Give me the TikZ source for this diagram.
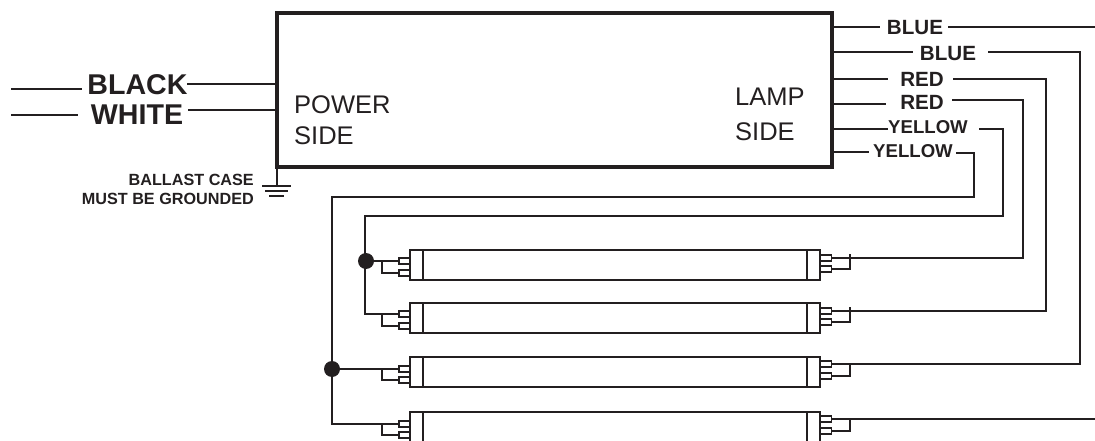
\documentclass[tikz,border=0pt]{standalone}
\usepackage{fontspec}
\setmainfont{Liberation Sans}
\definecolor{ink}{HTML}{231F20}
\tikzset{
  wire/.style={draw=ink,line width=2pt,line join=miter},
  boxmain/.style={draw=ink,line width=4.4pt,minimum width=555pt,minimum height=154pt,inner sep=0pt,outer sep=0pt},
  tubebody/.style={draw=ink,line width=2pt,minimum width=384pt,minimum height=30pt,inner sep=0pt,outer sep=0pt},
  tubecap/.style={draw=ink,fill=white,line width=2.2pt,minimum width=13pt,minimum height=30pt,inner sep=0pt,outer sep=0pt},
  tubepin/.style={draw=ink,fill=white,line width=1.9pt,minimum width=11pt,minimum height=6pt,inner sep=0pt,outer sep=0pt},
  dot/.style={circle,fill=ink,minimum size=16pt,inner sep=0pt,outer sep=0pt},
  big/.style={text=ink,inner sep=0pt,font=\bfseries\fontsize{28.6}{28.6}\selectfont},
  mid/.style={text=ink,inner sep=0pt,font=\bfseries\fontsize{20.6}{20.6}\selectfont},
  yel/.style={text=ink,inner sep=0pt,font=\bfseries\fontsize{18.6}{18.6}\selectfont},
  small/.style={text=ink,inner sep=0pt,font=\bfseries\fontsize{16.2}{20}\selectfont,anchor=east},
  side/.style={text=ink,inner sep=0pt,font=\fontsize{25.5}{25.5}\selectfont,anchor=base west},
}
\begin{document}
\begin{tikzpicture}[x=1pt,y=-1pt]
\clip (0,0) rectangle (1095,441);
\node[boxmain] (box) at (554.5,90) {};
% labels in the box
\node[side] (pw) at (294,113.5) {POWER};
\node[side] (ps) at (294,145) {SIDE};
\node[side] (lp) at (735,105.5) {LAMP};
\node[side] (ls) at (735,141) {SIDE};
% input
\node[big] (black) at (137.5,85) {BLACK};
\node[big] (white) at (137,114.5) {WHITE};
\coordinate (ba) at (11,89); \coordinate (bb) at (82,89);
\coordinate (bc) at (187,84); \coordinate (bd) at (277,84);
\coordinate (wa) at (11,115); \coordinate (wb) at (78,115);
\coordinate (wc) at (188,110); \coordinate (wd) at (277,110);
\draw[wire] (ba) -- (bb);
\draw[wire] (bc) -- (bd);
\draw[wire] (wa) -- (wb);
\draw[wire] (wc) -- (wd);
% ground
\node[small] (g1) at (254,179.5) {BALLAST CASE};
\node[small] (g2) at (254,199) {MUST BE GROUNDED};
\coordinate (gt) at (277,167); \coordinate (gb) at (277,186);
\coordinate (g1a) at (262,186); \coordinate (g1b) at (291,186);
\coordinate (g2a) at (265,191); \coordinate (g2b) at (288,191);
\coordinate (g3a) at (269,196); \coordinate (g3b) at (284,196);
\draw[wire] (gt) -- (gb);
\draw[wire] (g1a) -- (g1b);
\draw[wire] (g2a) -- (g2b);
\draw[wire] (g3a) -- (g3b);
% lamps
\foreach \n/\T/\la/\lb/\ra/\rb in {1/250/261/273/258/269,2/303/314/326/311/322,3/357/369/380/364/376,4/412/424/435/419/431}{
  \node[tubebody] (body\n) at (615,\T+15) {};
  \node[tubecap] (capl\n) at (416.5,\T+15) {};
  \node[tubecap] (capr\n) at (813.5,\T+15) {};
  \node[tubepin] (pla\n) at (404.5,\la) {};
  \node[tubepin] (plb\n) at (404.5,\lb) {};
  \node[tubepin] (pra\n) at (826,\ra) {};
  \node[tubepin] (prb\n) at (826,\rb) {};
  \coordinate (bl\n) at (382,\la);
  \coordinate (br\n) at (850,\ra);
  \draw[wire] (bl\n) |- (plb\n.west);
  \draw[wire] (prb\n.east) -| (br\n);
}
\draw[wire] (850,258) -- (850,254);
\draw[wire] (850,311) -- (850,307);
% output labels
\node[mid] (blue1) at (915,28) {BLUE};
\node[mid] (blue2) at (948,53.5) {BLUE};
\node[mid] (red1) at (922,79) {RED};
\node[mid] (red2) at (922,102) {RED};
\node[yel] (yel1) at (928,127.5) {YELLOW};
\node[yel] (yel2) at (913,151) {YELLOW};
\coordinate (o1a) at (832,27); \coordinate (o1b) at (880,27); \coordinate (o1c) at (948,27); \coordinate (o1d) at (1095,27);
\coordinate (o2a) at (832,52); \coordinate (o2b) at (913,52); \coordinate (o2c) at (988,52); \coordinate (o2d) at (1080,52);
\coordinate (o3a) at (832,79); \coordinate (o3b) at (888,79); \coordinate (o3c) at (953,79); \coordinate (o3d) at (1046,79);
\coordinate (o4a) at (832,104); \coordinate (o4b) at (886,104); \coordinate (o4c) at (952,100.5); \coordinate (o4d) at (1023,100.5);
\coordinate (o5a) at (832,129); \coordinate (o5b) at (888,129); \coordinate (o5c) at (979,129); \coordinate (o5d) at (1003,129);
\coordinate (o6a) at (832,152); \coordinate (o6b) at (869,152); \coordinate (o6c) at (956,153); \coordinate (o6d) at (974,153);
\draw[wire] (o1a) -- (o1b);
\draw[wire] (o1c) -- (o1d);
\draw[wire] (o2a) -- (o2b);
\draw[wire] (o3a) -- (o3b);
\draw[wire] (o4a) -- (o4b);
\draw[wire] (o5a) -- (o5b);
\draw[wire] (o6a) -- (o6b);
% lamp side returns
\draw[wire] (o2c) -- (o2d) |- (pra3.east);
\draw[wire] (o3c) -- (o3d) |- (pra2.east);
\draw[wire] (o4c) -- (o4d) |- (pra1.east);
\coordinate (end4) at (1095,419);
\draw[wire] (pra4.east) -- (end4);
% yellow returns and junctions
\node[dot] (j1) at (366,261) {};
\node[dot] (j2) at (332,369) {};
\coordinate (y1a) at (1003,216); \coordinate (y1b) at (365,216);
\coordinate (y2a) at (974,197); \coordinate (y2b) at (332,197);
\draw[wire] (o5c) -- (o5d) -- (y1a) -- (y1b) |- (pla2.west);
\draw[wire] (o6c) -- (o6d) -- (y2a) -- (y2b) |- (pla4.west);
\draw[wire] (j1) -- (pla1.west);
\draw[wire] (j2) -- (pla3.west);
\end{tikzpicture}
\end{document}
